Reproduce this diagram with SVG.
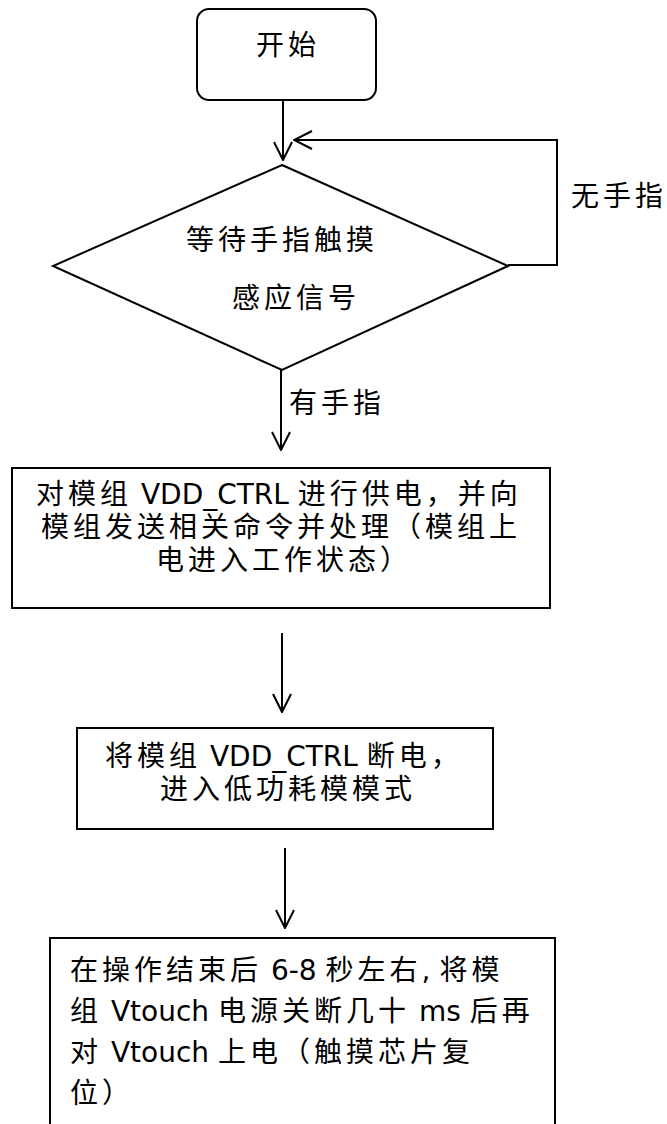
<svg xmlns="http://www.w3.org/2000/svg" width="667" height="1124" viewBox="0 0 667 1124">
<style>
.shape{fill:#fff;stroke:#000;stroke-width:2}
.conn{fill:none;stroke:#000;stroke-width:2}
.t{font-family:"DejaVu Sans","Noto Sans CJK SC",sans-serif;font-size:28px;letter-spacing:4px;fill:#000}
.l{letter-spacing:0}
</style>
<defs>
<marker id="arr" viewBox="0 0 20 20" refX="19" refY="10" markerWidth="20" markerHeight="20" markerUnits="userSpaceOnUse" orient="auto">
<path d="M1,1 L19,10 L1,19" fill="none" stroke="#000" stroke-width="2"/>
</marker>
</defs>
<rect width="667" height="1124" fill="#fff"/>
<g id="start">
<rect class="shape" x="197" y="9" width="179" height="91" rx="12"/>
<text class="t" x="256" y="55">开始</text>
</g>
<g id="wait">
<polygon class="shape" points="282,165 508,266 282,370 53,266"/>
<text class="t"><tspan x="186" y="250">等待手指触摸</tspan><tspan x="232" y="308">感应信号</tspan></text>
</g>
<g id="power">
<rect class="shape" x="12" y="468" width="538" height="140"/>
<text class="t"><tspan x="36" y="504">对模组</tspan><tspan class="l"> VDD_CTRL </tspan><tspan>进行供电，并向</tspan><tspan x="41" y="537">模组发送相关命令并处理（模组上</tspan><tspan x="156" y="570">电进入工作状态）</tspan></text>
</g>
<g id="lowpower">
<rect class="shape" x="77" y="728" width="416" height="101"/>
<text class="t"><tspan x="105" y="766">将模组</tspan><tspan class="l"> VDD_CTRL </tspan><tspan>断电，</tspan><tspan x="160" y="799">进入低功耗模模式</tspan></text>
</g>
<g id="reset">
<rect class="shape" x="50" y="938" width="505" height="200"/>
<text class="t"><tspan x="70" y="980">在操作结束后</tspan><tspan class="l"> 6-8 </tspan><tspan>秒左右</tspan><tspan class="l">, </tspan><tspan>将模</tspan><tspan x="70" y="1021">组</tspan><tspan class="l"> Vtouch </tspan><tspan>电源关断几十</tspan><tspan class="l"> ms </tspan><tspan>后再</tspan><tspan x="70" y="1062">对</tspan><tspan class="l"> Vtouch </tspan><tspan>上电（触摸芯片复</tspan><tspan x="70" y="1103">位）</tspan></text>
</g>
<g id="connectors">
<line class="conn" x1="283" y1="100" x2="283" y2="160" marker-end="url(#arr)"/>
<polyline class="conn" points="508,265 557,265 557,140 294,140" marker-end="url(#arr)"/>
<text class="t" x="571" y="206">无手指</text>
<line class="conn" x1="281" y1="370" x2="281" y2="450" marker-end="url(#arr)"/>
<text class="t" x="289" y="413">有手指</text>
<line class="conn" x1="282" y1="633" x2="282" y2="712" marker-end="url(#arr)"/>
<line class="conn" x1="285" y1="848" x2="285" y2="928" marker-end="url(#arr)"/>
</g>
</svg>
